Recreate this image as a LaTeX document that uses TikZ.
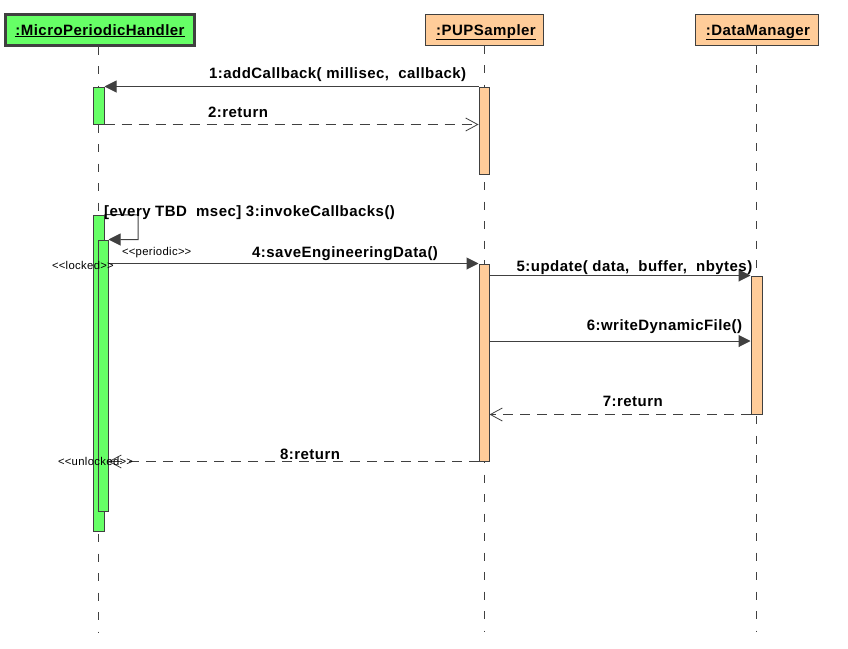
\documentclass[tikz,border=0pt]{standalone}
\usepackage{fontspec}
\setmainfont{Liberation Sans}[LetterSpace=3]
\usetikzlibrary{arrows.meta,calc}
\definecolor{umlgreen}{HTML}{66FF66}
\definecolor{umlorange}{HTML}{FFCC99}
\definecolor{umlline}{HTML}{404040}
\tikzset{
  big/.style={font=\fontsize{15}{18}\selectfont\bfseries},
  small/.style={font=\fontsize{11.3}{13}\selectfont},
  header/.style={draw=umlline, line width=1pt, inner sep=0pt, minimum height=31pt, big},
  lifeline/.style={draw=umlline, line width=1pt, dash pattern=on 8pt off 11.5pt},
  actbox/.style={draw=umlline, line width=1pt, inner sep=0pt, minimum width=11pt},
  callmsg/.style={draw=umlline, line width=1pt, -{Triangle[length=12pt,width=12pt]}},
  retmsg/.style={draw=umlline, line width=1pt, dash pattern=on 10pt off 7pt, -{Straight Barb[length=12pt,width=13pt,line width=0.8pt]}},
  msglabel/.style={big, inner sep=0pt, anchor=base west},
  stereo/.style={small, inner sep=0pt, anchor=base west},
}
\begin{document}
\begin{tikzpicture}[x=1pt,y=-1pt]
\path[use as bounding box] (0,0) rectangle (848,648);

% headers
\node[header, fill=umlgreen, line width=3pt, minimum width=189pt] (mph) at (99.5,29.5) {};
\node[header, fill=umlorange, minimum width=118pt] (pup) at (484,29.5) {};
\node[header, fill=umlorange, minimum width=123pt] (dm) at (756.5,29.5) {};
\node[big, inner sep=0pt, anchor=base] (mpht) at (100,35) {\underline{:MicroPeriodicHandler}};
\node[big, inner sep=0pt, anchor=base] (pupt) at (486,35) {\underline{:PUPSampler}};
\node[big, inner sep=0pt, anchor=base] (dmt) at (758,35) {\underline{:DataManager}};

% lifeline ends
\coordinate (mphend) at (98,632);
\coordinate (pupend) at (484,632);
\coordinate (dmend) at (756,632);
\draw[lifeline] (mph.south -| mphend) -- (mphend);
\draw[lifeline] (pup.south -| pupend) -- (pupend);
\draw[lifeline] (dm.south -| dmend) -- (dmend);

% activations
\node[actbox, fill=umlgreen, minimum height=37pt] (act1) at (98.5,105.5) {};
\node[actbox, fill=umlorange, minimum width=10pt, minimum height=87pt] (pact1) at (484,130.5) {};
\node[actbox, fill=umlgreen, minimum height=316pt] (act2) at (98.5,373) {};
\node[actbox, fill=umlgreen, minimum width=10pt, minimum height=271pt] (act3) at (103,375.5) {};
\node[actbox, fill=umlorange, minimum width=10pt, minimum height=197pt] (pact2) at (484,362.5) {};
\node[actbox, fill=umlorange, minimum height=138pt] (dact) at (756.5,345) {};

% messages
\draw[callmsg] (pact1.north west) -- (act1.north east);
\draw[retmsg] (act1.south east) -- (pact1.west |- act1.south east);
\coordinate (selfturn) at (138,215);
\draw[callmsg] (act2.north east) -- (selfturn) -- (selfturn |- act3.north east) -- (act3.north east);
\draw[callmsg] (act3.east |- pact2.north west) -- (pact2.north west);
\draw[callmsg] (pact2.east |- dact.north west) -- (dact.north west);
\coordinate (m6) at (0,341);
\draw[callmsg] (pact2.east |- m6) -- (dact.west |- m6);
\draw[retmsg] (dact.south west) -- (pact2.east |- dact.south west);
\draw[retmsg] (pact2.south west) -- (act3.east |- pact2.south west);

% labels
\node[msglabel] (l1) at (209,78.3) {1:addCallback( millisec,\ \ callback)};
\node[msglabel] (l2) at (208,117.3) {2:return};
\node[msglabel] (l3) at (104,216) {[every TBD\ \ msec] 3:invokeCallbacks()};
\node[stereo] (s1) at (122,255) {<\kern0pt<periodic>\kern0pt>};
\node[msglabel] (l4) at (252,257.5) {4:saveEngineeringData()};
\node[stereo] (s2) at (52,269.5) {<\kern0pt<locked>\kern0pt>};
\node[msglabel] (l5) at (516.5,271.7) {5:update( data,\ \ buffer,\ \ nbytes)};
\node[msglabel] (l6) at (586.7,330.7) {6:writeDynamicFile()};
\node[msglabel] (l7) at (602.7,406.7) {7:return};
\node[msglabel] (l8) at (280,459.3) {8:return};
\node[stereo] (s3) at (58,465.7) {<\kern0pt<unlocked>\kern0pt>};
\end{tikzpicture}
\end{document}
